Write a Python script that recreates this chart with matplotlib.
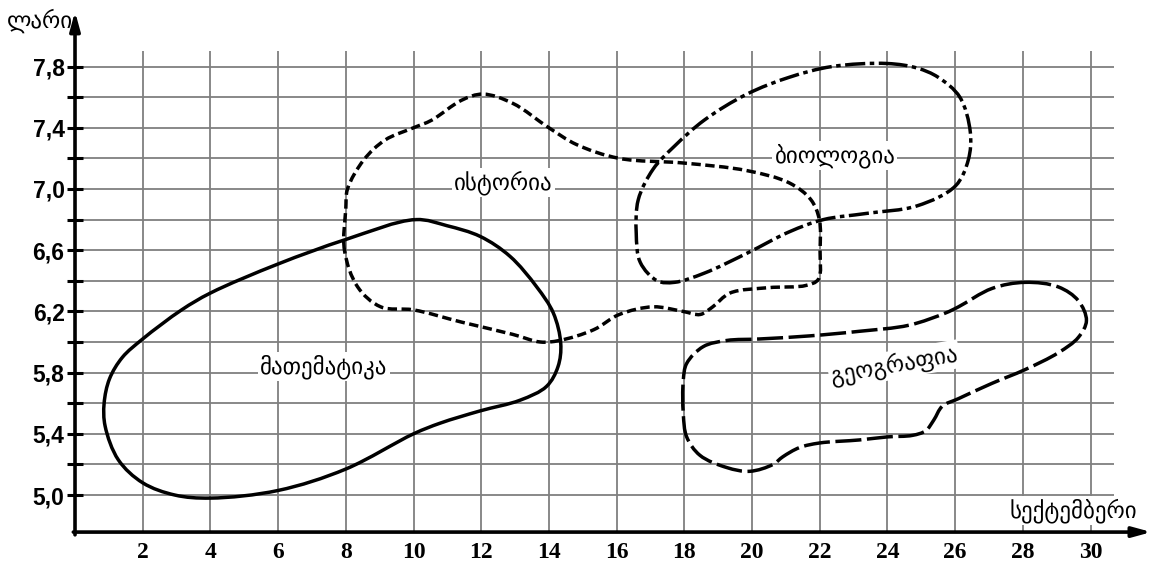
import numpy as np
import matplotlib
matplotlib.use("Agg")
import matplotlib.pyplot as plt
from matplotlib.path import Path
from matplotlib.patches import PathPatch

# outline points of each subject (x = day of September, y = lari)
math_x = [10.06, 10.99, 11.97, 12.85, 13.64, 14.13, 14.35, 14.27, 13.93, 13.15,
          11.97, 10.79, 10.0, 8.0, 6.0, 4.0, 2.95, 2.0, 1.28,
          0.89, 0.86, 1.02, 1.4, 2.0, 3.15, 4.0, 6.0, 8.0]
math_y = [6.80, 6.76, 6.69, 6.56, 6.36, 6.19, 5.99, 5.84, 5.71, 5.62,
          5.55, 5.47, 5.40, 5.17, 5.03, 4.98, 5.00, 5.08, 5.23,
          5.45, 5.60, 5.76, 5.90, 6.02, 6.21, 6.32, 6.51, 6.67]

hist_x = [7.96, 8.0, 8.05, 8.53, 9.16, 10.0, 10.54, 11.42, 12.05, 12.93,
          14.0, 14.82, 16.08, 17.96, 19.85, 21.1, 21.74, 21.99, 22.01, 21.96,
          21.6, 20.48, 19.35, 18.84, 18.47, 17.96, 17.08, 16.08, 15.32, 14.31,
          13.75, 12.93, 11.42, 10.0, 9.03, 8.35]
hist_y = [6.60, 6.87, 7.00, 7.19, 7.32, 7.40, 7.45, 7.58, 7.62, 7.56,
          7.40, 7.29, 7.20, 7.17, 7.12, 7.04, 6.93, 6.80, 6.60, 6.41,
          6.37, 6.355, 6.32, 6.23, 6.18, 6.20, 6.23, 6.18, 6.08, 6.01,
          6.00, 6.05, 6.13, 6.21, 6.23, 6.36]

bio_x = [24.0, 24.88, 25.5, 26.14, 26.45, 26.39, 26.01, 24.88, 23.37, 22.11,
         21.1, 19.85, 18.59, 17.71, 17.2, 16.7, 16.58, 16.64, 17.08, 17.71,
         18.59, 19.85, 21.1, 22.36]
bio_y = [7.82, 7.79, 7.73, 7.60, 7.37, 7.19, 7.02, 6.89, 6.84, 6.80,
         6.72, 6.58, 6.45, 6.39, 6.40, 6.52, 6.71, 6.93, 7.13, 7.28,
         7.45, 7.62, 7.73, 7.80]

geo_x = [28.07, 29.05, 29.64, 29.88, 29.64, 29.05, 28.07, 27.09, 26.1, 25.62,
         25.37, 25.13, 24.74, 24.0, 23.17, 21.99, 21.4, 20.91, 20.62, 19.93,
         19.25, 18.46, 18.07, 17.97, 17.97, 18.07, 18.56, 19.25, 20.23, 21.7,
         23.17, 24.64, 25.72, 26.1, 27.09]
geo_y = [6.39, 6.36, 6.27, 6.14, 6.03, 5.93, 5.82, 5.73, 5.63, 5.58,
         5.49, 5.42, 5.39, 5.38, 5.36, 5.34, 5.31, 5.25, 5.20, 5.155,
         5.18, 5.26, 5.38, 5.53, 5.75, 5.86, 5.97, 6.01, 6.02, 6.04,
         6.07, 6.11, 6.19, 6.23, 6.35]

x_ticks = list(range(2, 31, 2))
y_ticks = [5.0, 5.4, 5.8, 6.2, 6.6, 7.0, 7.4, 7.8]
y_minor = [5.2, 5.6, 6.0, 6.4, 6.8, 7.2, 7.6]
y_labels = ["5,0", "5,4", "5,8", "6,2", "6,6", "7,0", "7,4", "7,8"]

# aspect of one data unit on screen (px per unit in x and y)
SX, SY = 33.9, 153.0


def closed_path(xs, ys):
    # closed centripetal catmull-rom through the points, as cubic beziers
    p = np.column_stack([xs, ys])
    q = p * [SX, SY]
    n = len(p)
    verts = [p[0]]
    codes = [Path.MOVETO]
    for i in range(n):
        idx = [(i - 1) % n, i, (i + 1) % n, (i + 2) % n]
        P = p[idx]
        Q = q[idx]
        d = np.sqrt(np.linalg.norm(np.diff(Q, axis=0), axis=1)) + 1e-6
        t0, t1, t2, t3 = 0, d[0], d[0] + d[1], d[0] + d[1] + d[2]
        m1 = (P[1] - P[0]) / (t1 - t0) - (P[2] - P[0]) / (t2 - t0) + (P[2] - P[1]) / (t2 - t1)
        m2 = (P[2] - P[1]) / (t2 - t1) - (P[3] - P[1]) / (t3 - t1) + (P[3] - P[2]) / (t3 - t2)
        h = (t2 - t1) / 3
        verts += [P[1] + m1 * h, P[2] - m2 * h, P[2]]
        codes += [Path.CURVE4] * 3
    return Path(verts, codes)


fig = plt.figure(figsize=(11.56, 5.61), dpi=100)
ax = fig.add_axes([0, 0, 1, 1])
ax.set_xlim(-2.216, 31.935)
ax.set_ylim(4.569, 8.235)
for s in ax.spines.values():
    s.set_visible(False)
ax.spines["left"].set_position(("data", 0))
ax.spines["bottom"].set_position(("data", 4.758))

# grid
grid_c = "#7f7f7f"
ax.hlines(y_ticks + y_minor, 0, 30.7, color=grid_c, lw=1.3, zorder=1)
ax.vlines(x_ticks, 4.758, 7.9, color=grid_c, lw=1.3, zorder=1)

# axes with arrows
arrow = dict(arrowstyle="-|>,head_length=1.1,head_width=0.3", color="k",
             lw=2.6, shrinkA=0, shrinkB=0)
ax.annotate("", xy=(31.8, 4.758), xytext=(-0.05, 4.758), arrowprops=arrow, zorder=5)
ax.annotate("", xy=(0, 8.16), xytext=(0, 4.74), arrowprops=arrow, zorder=5)

ax.set_yticks(y_ticks)
ax.set_yticklabels(y_labels, fontsize=16.5, fontweight="bold", family="Liberation Sans")
ax.set_yticks(y_minor, minor=True)
ax.tick_params(axis="y", which="both", direction="inout", length=11, width=2.2,
               pad=2)
ax.set_xticks(x_ticks)
ax.set_xticklabels([str(v) for v in x_ticks], fontsize=17, fontweight="bold",
                   family="Liberation Serif")
ax.tick_params(axis="x", length=0, pad=7)

# subject outlines
lw = 2.5
ax.add_patch(PathPatch(closed_path(math_x, math_y), fill=False, ec="k", lw=lw,
                       zorder=4))
ax.add_patch(PathPatch(closed_path(hist_x, hist_y), fill=False, ec="k", lw=lw,
                       ls=(0, (2.7, 1.3)), zorder=4))
ax.add_patch(PathPatch(closed_path(bio_x, bio_y), fill=False, ec="k", lw=lw,
                       ls=(0, (5.8, 1.3, 1.3, 1.3)), zorder=4))
ax.add_patch(PathPatch(closed_path(geo_x, geo_y), fill=False, ec="k", lw=lw,
                       ls=(0, (7.5, 1.6)), zorder=4))

box = dict(facecolor="white", edgecolor="none", pad=1.5)
tfont = dict(fontsize=16.5, family="DejaVu Sans", ha="center", va="center",
             bbox=box, zorder=3)
ax.text(12.65, 7.04, "ისტორია", **tfont)
ax.text(22.45, 7.22, "ბიოლოგია", **tfont)
ax.text(7.35, 5.84, "მათემატიკა", **tfont)
ax.text(24.2, 5.85, "გეოგრაფია", rotation=10, **tfont)
ax.text(29.5, 4.90, "სექტემბერი", **tfont)
ax.text(-1.05, 8.10, "ლარი", **tfont)

fig.savefig("out.png", dpi=100)
